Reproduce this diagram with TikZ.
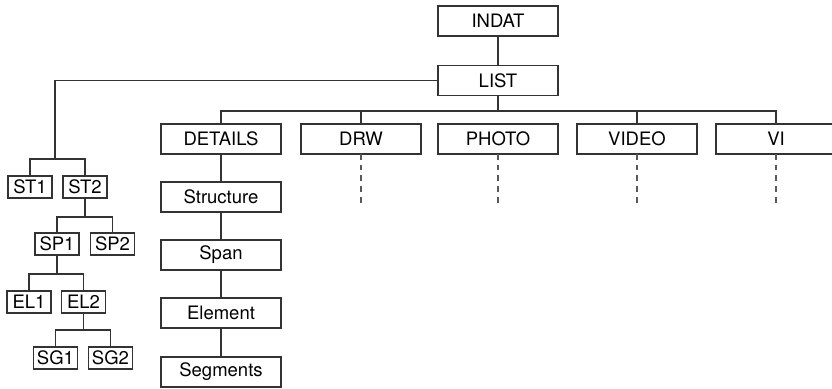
\documentclass[tikz,border=0pt]{standalone}
\usepackage{fontspec}
\setmainfont{TeX Gyre Heros}
\begin{document}
\begin{tikzpicture}[x=1pt,y=-1pt,
  bigbox/.style={draw=black!80, line width=1.2pt, minimum width=120pt, minimum height=30pt,
    inner sep=0pt, outer sep=0pt, font=\fontsize{18.5}{22}\selectfont, text=black},
  smallbox/.style={draw=black!80, line width=1.2pt, minimum width=44pt, minimum height=22pt,
    inner sep=0pt, outer sep=0pt, font=\fontsize{18.5}{22}\selectfont, text=black},
  link/.style={draw=black!80, line width=1.2pt},
  stub/.style={draw=black!65, line width=1.4pt, dash pattern=on 5.7pt off 5pt}]
\clip (0,0) rectangle (832,388);
\fill[white] (0,0) rectangle (832,388);

% top of the hierarchy
\node[bigbox] (indat) at (498,21) {INDAT};
\node[bigbox] (list)  at (498,80.5) {LIST};

% second level
\node[bigbox] (details) at (221,139) {DETAILS};
\node[bigbox] (drw)     at (361,139) {DRW};
\node[bigbox] (photo)   at (498,139) {PHOTO};
\node[bigbox] (video)   at (637,139) {VIDEO};
\node[bigbox] (vi)      at (776,139) {VI};

% details chain
\node[bigbox] (structure) at (221,197) {Structure};
\node[bigbox] (span)      at (221,255) {Span};
\node[bigbox] (element)   at (221,313) {Element};
\node[bigbox] (segments)  at (221,372) {Segments};

% instance tree
\node[smallbox] (st1) at (30,187) {ST1};
\node[smallbox] (st2) at (85,187) {ST2};
\node[smallbox] (sp1) at (57,244) {SP1};
\node[smallbox] (sp2) at (112.5,244) {SP2};
\node[smallbox] (el1) at (29,302) {EL1};
\node[smallbox] (el2) at (83.5,302) {EL2};
\node[smallbox] (sg1) at (55.5,358) {SG1};
\node[smallbox] (sg2) at (110.5,358) {SG2};

% junction points
\coordinate (bus)  at (0,111);
\coordinate (stj)  at (55,159);
\coordinate (spj)  at (85,217);
\coordinate (elj)  at (57,274);
\coordinate (sgj)  at (83.5,330);

% open ends of the dashed stubs
\coordinate (drwend)   at (361,204);
\coordinate (photoend) at (498,204);
\coordinate (videoend) at (637,204);
\coordinate (viend)    at (776,204);

% connectors
\draw[link] (indat) -- (list);
\draw[link] (list.south) -- (list.south |- bus);
\draw[link] (details.north) -- (details.north |- bus) -- (vi.north |- bus) -- (vi.north);
\draw[link] (drw.north) -- (drw.north |- bus);
\draw[link] (video.north) -- (video.north |- bus);
\draw[link] (details) -- (structure);
\draw[link] (structure) -- (span);
\draw[link] (span) -- (element);
\draw[link] (element) -- (segments);

\draw[link] (list.west) -| (stj);
\draw[link] (st1.north) |- (stj) -| (st2.north);
\draw[link] (st2.south) -- (spj);
\draw[link] (sp1.north) |- (spj) -| (sp2.north);
\draw[link] (sp1.south) -- (elj);
\draw[link] (el1.north) |- (elj) -| (el2.north);
\draw[link] (el2.south) -- (sgj);
\draw[link] (sg1.north) |- (sgj) -| (sg2.north);

\draw[stub] (drw.south) -- (drwend);
\draw[stub] (photo.south) -- (photoend);
\draw[stub] (video.south) -- (videoend);
\draw[stub] (vi.south) -- (viend);
\end{tikzpicture}
\end{document}
